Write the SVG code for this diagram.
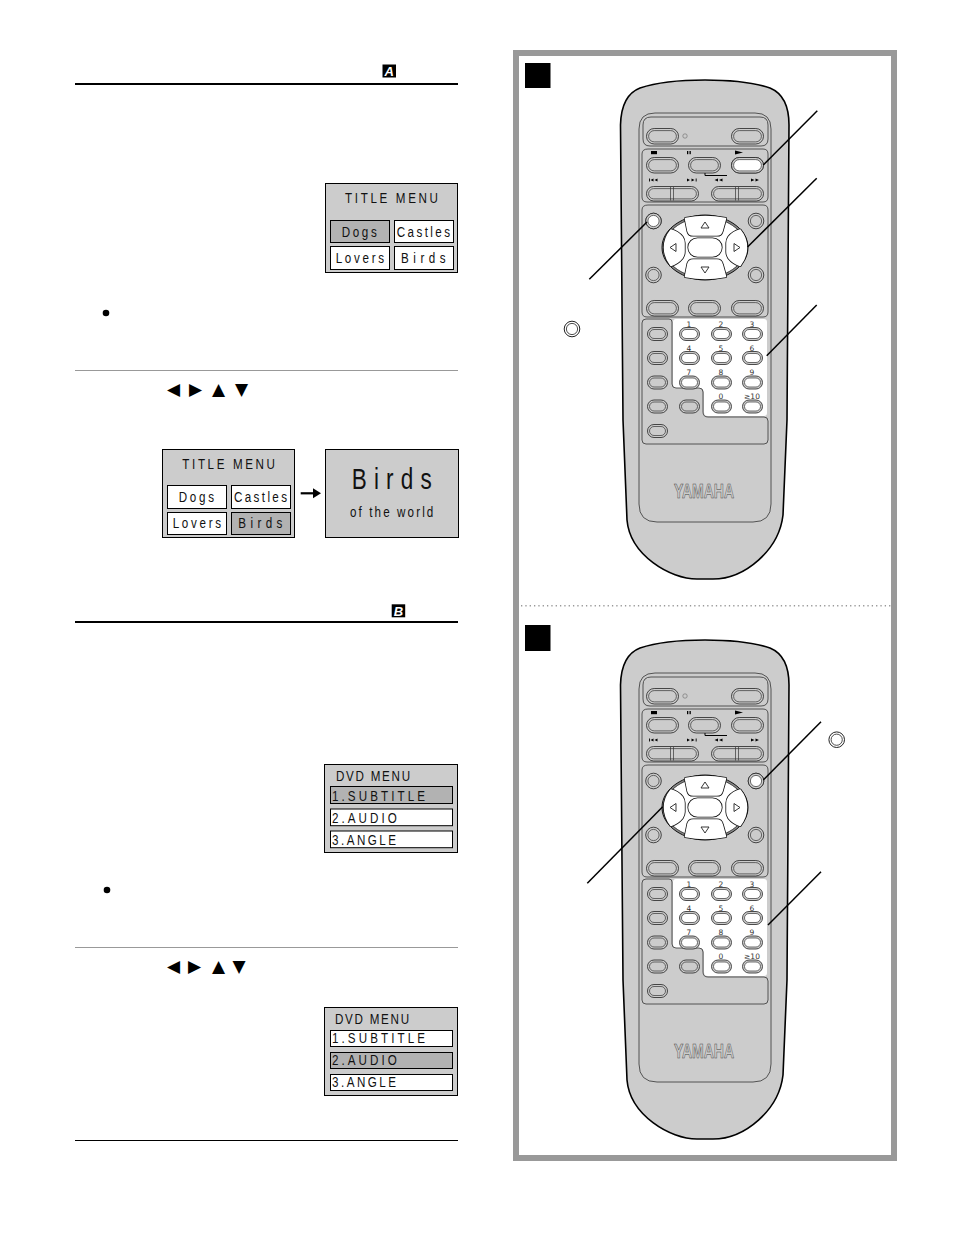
<svg xmlns="http://www.w3.org/2000/svg" width="954" height="1237" viewBox="0 0 954 1237">
<style>
.box{fill:#ccc;stroke:#000;stroke-width:1}
.w{fill:#fff;stroke:#000;stroke-width:1}
.g{fill:#b2b2b2;stroke:#000;stroke-width:1}
.t{font-family:"Liberation Sans",sans-serif;fill:#111}
.m{font-size:15.5px}
.lead{stroke:#000;stroke-width:1.5;fill:none}
.heavy{stroke:#000;stroke-width:2}
.thin{stroke:#999;stroke-width:1}
.ln{stroke:#333;stroke-width:.8;fill:none}
.o{stroke:#222;stroke-width:.8}
.i{stroke:#333;stroke-width:.7}
.d{font-family:"DejaVu Sans",sans-serif;font-size:7.5px;fill:#333;text-anchor:middle}
.tri{font-family:"DejaVu Sans",sans-serif;font-size:17px;fill:#000}
.bl{fill:#000}
.lt{font-family:"Liberation Sans",sans-serif;font-size:13px;font-weight:bold;font-style:italic;fill:#fff;text-anchor:middle}
</style>
<defs>
<g id="p"><rect class="o" x="0.5" y="0.5" width="32" height="15.5" rx="7.7" fill="#ccc"/><rect class="i" x="2.6" y="2.6" width="27.8" height="11.3" rx="5.6"/></g>
<g id="n"><rect class="o" x="0.5" y="0.5" width="20" height="13" rx="6.5" fill="#ccc"/><rect class="i" x="2.5" y="2.5" width="16" height="9" rx="4.5"/></g>
<g id="wd"><rect class="o" x="0.5" y="0.5" width="52" height="14.5" rx="7.2" fill="#ccc"/><rect class="i" x="2.6" y="2.6" width="47.8" height="10.3" rx="5.1"/><path class="i" d="M24.5 1V14.5M27.5 1V14.5"/></g>
<g id="c"><circle class="o" r="7.8" fill="#ccc"/><circle class="i" r="5.6"/></g>
<path id="up" d="M685.5 218.5Q705 214.5 725.5 218.5L722 231Q721 235 717 235H693Q689 235 688 231Z"/>
<path id="lf" d="M671 230Q678 232 682 237Q684 240 684 243V252Q684 255 682 258Q678 263 671 265.5Q664.5 257 664.5 247.5Q664.5 238 671 230Z"/>
<g id="remote" fill="#ccc">
<path d="M705 80C680 80 655 83 640 88C627 93 621 105 620.5 125L623 420L627 520C630 555 670 579 697 579H713C745 579 779 550 783 515L787 420L789 125C789 105 782 93 770 88C755 83 730 80 705 80Z" stroke="#000" stroke-width="1.6"/>
<path class="ln" d="M655 113H755Q771 113 771 129V504Q771 522 753 522H657Q639 522 639 504V129Q639 113 655 113Z"/>
<path class="ln" d="M651 117H760Q768 117 768 125V139Q768 146 761 146H650Q643 146 643 139V125Q643 117 651 117Z"/>
<path class="ln" d="M648 149H763Q768 149 768 154V197Q768 202 763 202H647Q642 202 642 197V154Q642 149 648 149Z"/>
<path class="ln" d="M648 205H763Q768 205 768 210V312Q768 317 763 317H647Q642 317 642 312V210Q642 205 648 205Z"/>
<path d="M673 322Q673 319 676 319H764Q767 319 767 322V413Q767 416 764 416H708Q704 416 704 412V393Q704 388 699 388H677Q673 388 673 384Z" fill="#fff"/>
<path class="ln" d="M646 319H669Q672 319 672 322V384Q672 388 676 388H699Q703 388 703 392V412Q703 417 708 417H764Q768 417 768 421V440Q768 444 764 444H646Q642 444 642 440V323Q642 319 646 319Z"/>
<use href="#p" x="646" y="128"/><use href="#p" x="731" y="128"/>
<use href="#p" x="646" y="157"/><use href="#p" x="688" y="157"/><use href="#p" x="731" y="157"/>
<use href="#wd" x="646" y="186"/><use href="#wd" x="711" y="186"/>
<use href="#p" x="646" y="300"/><use href="#p" x="688" y="300"/><use href="#p" x="731" y="300"/>
<circle cx="685" cy="136" r="2.2" fill="none" stroke="#777" stroke-width=".7"/>
<g class="bl"><rect x="651" y="151" width="6" height="3.2"/><rect x="687" y="151" width="1.3" height="3.2"/><rect x="689.5" y="151" width="1.3" height="3.2"/><path d="M735 150.5L743 152.6L735 154.6Z"/>
<path d="M649 178.5h.9v3h-.9zM653.5 178.5v3l-3-1.5zM657.5 178.5v3l-3-1.5zM695.7 178.5h.9v3h-.9zM687 178.5v3l3-1.5zM691.5 178.5v3l3-1.5zM718 178.5v3l-3.5-1.5zM722.5 178.5v3l-3.5-1.5zM751 178.5v3l3.5-1.5zM755.5 178.5v3l3.5-1.5z"/></g>
<use href="#c" x="653.5" y="221"/><use href="#c" x="756" y="221"/><use href="#c" x="653.5" y="275"/><use href="#c" x="756" y="275"/>
<path d="M705 215C725 215 748 228 748 247.5C748 267 725 280 705 280C685 280 662 267 662 247.5C662 228 685 215 705 215Z" fill="#888" stroke="#111" stroke-width="1"/>
<path d="M705 217C723 217 746 229 746 247.5C746 266 723 278 705 278C687 278 664 266 664 247.5C664 229 687 217 705 217Z" fill="#fff" stroke="#222" stroke-width=".8"/>
<g fill="#fff" stroke="#111" stroke-width="3.2" stroke-linejoin="round"><use href="#up"/><use href="#lf"/><use href="#up" transform="matrix(1 0 0 -1 0 495)"/><use href="#lf" transform="matrix(-1 0 0 1 1411 0)"/><rect x="689" y="239" width="32" height="17" rx="8.5"/></g>
<g fill="#fff" stroke="#fff" stroke-width="1.6" stroke-linejoin="round"><use href="#up"/><use href="#lf"/><use href="#up" transform="matrix(1 0 0 -1 0 495)"/><use href="#lf" transform="matrix(-1 0 0 1 1411 0)"/><rect x="689" y="239" width="32" height="17" rx="8.5"/></g>
<g fill="none" stroke="#222" stroke-width=".9"><path d="M705 222L709 228H701Z"/><path d="M705 273L709 267H701Z"/><path d="M670 247.5L676 243.5V251.5Z"/><path d="M740 247.5L734 243.5V251.5Z"/></g>
<use href="#n" x="647" y="327"/><use href="#n" x="647" y="351"/><use href="#n" x="647" y="375.5"/><use href="#n" x="647" y="399.5"/><use href="#n" x="647" y="424"/><use href="#n" x="679" y="399.5"/>
<g fill="#fff"><use href="#n" x="679" y="327"/><use href="#n" x="711" y="327"/><use href="#n" x="742" y="327"/><use href="#n" x="679" y="351"/><use href="#n" x="711" y="351"/><use href="#n" x="742" y="351"/><use href="#n" x="679" y="375.5"/><use href="#n" x="711" y="375.5"/><use href="#n" x="742" y="375.5"/><use href="#n" x="711" y="399.5"/><use href="#n" x="742" y="399.5"/></g>
<g><text class="d" x="689" y="326.5">1</text><text class="d" x="721" y="326.5">2</text><text class="d" x="752" y="326.5">3</text><text class="d" x="689" y="350.5">4</text><text class="d" x="721" y="350.5">5</text><text class="d" x="752" y="350.5">6</text><text class="d" x="689" y="375">7</text><text class="d" x="721" y="375">8</text><text class="d" x="752" y="375">9</text><text class="d" x="721" y="399">0</text><text class="d" x="752" y="399">≥10</text></g>
<text x="674" y="498" font-family="Liberation Sans,sans-serif" font-weight="bold" font-size="21" fill="#ccc" stroke="#444" stroke-width=".6" textLength="60" lengthAdjust="spacingAndGlyphs">YAMAHA</text>
</g>
</defs>

<rect id="frame" x="516" y="53" width="378" height="1105" fill="none" stroke="#999" stroke-width="6"/>
<path d="M521 605.7H891" stroke="#999" stroke-width="1.4" stroke-dasharray="1.3 3.03"/>
<rect id="marker-a" x="525" y="63" width="25.5" height="25" fill="#000"/>
<rect id="marker-b" x="525" y="625" width="25.5" height="26" fill="#000"/>

<g id="remote-a"><use href="#remote"/>
<use href="#p" x="731" y="157" fill="#fff"/>
<use href="#c" x="653.5" y="221" fill="#fff"/>
<path d="M705 173V175.5H727" fill="none" stroke="#000" stroke-width="1"/>
</g>
<g id="remote-b" transform="translate(0 560)"><use href="#remote"/>
<use href="#c" x="756" y="221" fill="#fff"/>
<path d="M705 173V175.5H727" fill="none" stroke="#000" stroke-width="1"/>
</g>

<g id="connectors">
<path class="lead" d="M817.3 110.7L763.3 165"/><path class="lead" d="M816.7 178.3L747.5 247"/><path class="lead" d="M816.7 305L766.7 355.7"/><path class="lead" d="M589.3 279.3L647 222"/>
<path class="lead" d="M821 721.7L763.3 780"/><path class="lead" d="M587.3 883.3L662.7 806.7"/><path class="lead" d="M821 871.7L768 925"/>
</g>
<g id="key-a"><circle cx="572" cy="329" r="7.8" fill="#fff" stroke="#222"/><circle cx="572" cy="329" r="5.6" fill="#fff" stroke="#222" stroke-width=".8"/></g>
<g id="key-b"><circle cx="836.7" cy="739.7" r="7.8" fill="#fff" stroke="#222"/><circle cx="836.7" cy="739.7" r="5.6" fill="#fff" stroke="#222" stroke-width=".8"/></g>

<g id="rules">
<path class="heavy" d="M75 84H458M75 622H458"/><path class="thin" d="M75 370.5H458M75 947.5H458"/><path d="M75 1140.5H458" stroke="#000" stroke-width="1"/>
</g>
<g id="badge-a"><rect x="382.5" y="64.5" width="13.5" height="13" fill="#000"/><text class="lt" x="389.3" y="76">A</text></g>
<g id="badge-b"><rect x="391.7" y="604.3" width="13.5" height="13" fill="#000"/><text class="lt" x="398.5" y="615.8">B</text></g>
<circle cx="106" cy="313" r="3.3"/><circle cx="107" cy="890" r="3.3"/>
<g id="arrows-1"><text class="tri" x="167" y="395">◀</text><text class="tri" x="189" y="395">▶</text><text class="tri" x="212" y="395">▲</text><text class="tri" x="235" y="395">▼</text></g>
<g id="arrows-2"><text class="tri" x="167" y="972">◀</text><text class="tri" x="188" y="972">▶</text><text class="tri" x="212" y="972">▲</text><text class="tri" x="232.5" y="972">▼</text></g>

<g id="title-menu-1">
<rect class="box" x="325.5" y="183.5" width="132" height="89"/>
<text class="t m" transform="matrix(.75 0 0 1 345 203)" textLength="124">TITLE MENU</text>
<rect class="g" x="330.5" y="220.5" width="59" height="22"/><rect class="w" x="394.5" y="220.5" width="59" height="22"/><rect class="w" x="330.5" y="246.5" width="59" height="23"/><rect class="w" x="394.5" y="246.5" width="59" height="23"/>
<text class="t m" transform="matrix(.75 0 0 1 341.7 236.7)" textLength="46.7">Dogs</text><text class="t m" transform="matrix(.75 0 0 1 396.7 236.7)" textLength="71.1">Castles</text><text class="t m" transform="matrix(.75 0 0 1 335.7 263)" textLength="64.5">Lovers</text><text class="t m" transform="matrix(.75 0 0 1 401 263)" textLength="59.5">Birds</text>
</g>
<g id="title-menu-2">
<rect class="box" x="162.5" y="449.5" width="132" height="88"/>
<text class="t m" transform="matrix(.75 0 0 1 182.3 469)" textLength="123.6">TITLE MENU</text>
<rect class="w" x="167.5" y="485.5" width="59" height="23"/><rect class="w" x="231.5" y="485.5" width="59" height="23"/><rect class="w" x="167.5" y="512.5" width="59" height="22"/><rect class="g" x="231.5" y="512.5" width="59" height="22"/>
<text class="t m" transform="matrix(.75 0 0 1 178.7 501.7)" textLength="47.1">Dogs</text><text class="t m" transform="matrix(.75 0 0 1 234 501.7)" textLength="70.7">Castles</text><text class="t m" transform="matrix(.75 0 0 1 172.7 528.3)" textLength="64.5">Lovers</text><text class="t m" transform="matrix(.75 0 0 1 238.3 528.3)" textLength="58.7">Birds</text>
</g>
<g id="menu-arrow"><path d="M300.7 493.3H314" stroke="#000" stroke-width="2.2"/><path d="M313 488.3L321 493.3L313 498.3Z" fill="#000"/></g>
<g id="birds-screen">
<rect class="box" x="325.5" y="449.5" width="133" height="88"/>
<text class="t" font-size="30" transform="matrix(.75 0 0 1 351.7 489.3)" textLength="106.7">Birds</text>
<text class="t m" transform="matrix(.75 0 0 1 350 517.3)" textLength="111.1">of the world</text>
</g>
<g id="dvd-menu-1">
<rect class="box" x="324.5" y="764.5" width="133" height="88"/>
<text class="t m" transform="matrix(.75 0 0 1 336 781)" textLength="98.7">DVD MENU</text>
<rect class="g" x="330.5" y="786.5" width="122" height="17"/><rect class="w" x="330.5" y="809" width="122" height="16.7"/><rect class="w" x="330.5" y="831" width="122" height="16.7"/>
<text class="t m" transform="matrix(.75 0 0 1 332 800.7)" textLength="124">1.SUBTITLE</text><text class="t m" transform="matrix(.75 0 0 1 332 822.7)" textLength="86.3">2.AUDIO</text><text class="t m" transform="matrix(.75 0 0 1 332 844.7)" textLength="85.3">3.ANGLE</text>
</g>
<g id="dvd-menu-2">
<rect class="box" x="324.5" y="1007.5" width="133" height="88"/>
<text class="t m" transform="matrix(.75 0 0 1 335 1024.3)" textLength="98.7">DVD MENU</text>
<rect class="w" x="330.5" y="1030.5" width="122" height="16"/><rect class="g" x="330.5" y="1052.5" width="122" height="16"/><rect class="w" x="330.5" y="1074.5" width="122" height="16"/>
<text class="t m" transform="matrix(.75 0 0 1 332 1043.3)" textLength="124">1.SUBTITLE</text><text class="t m" transform="matrix(.75 0 0 1 332 1065.3)" textLength="86.3">2.AUDIO</text><text class="t m" transform="matrix(.75 0 0 1 332 1087.3)" textLength="85.3">3.ANGLE</text>
</g>
</svg>
